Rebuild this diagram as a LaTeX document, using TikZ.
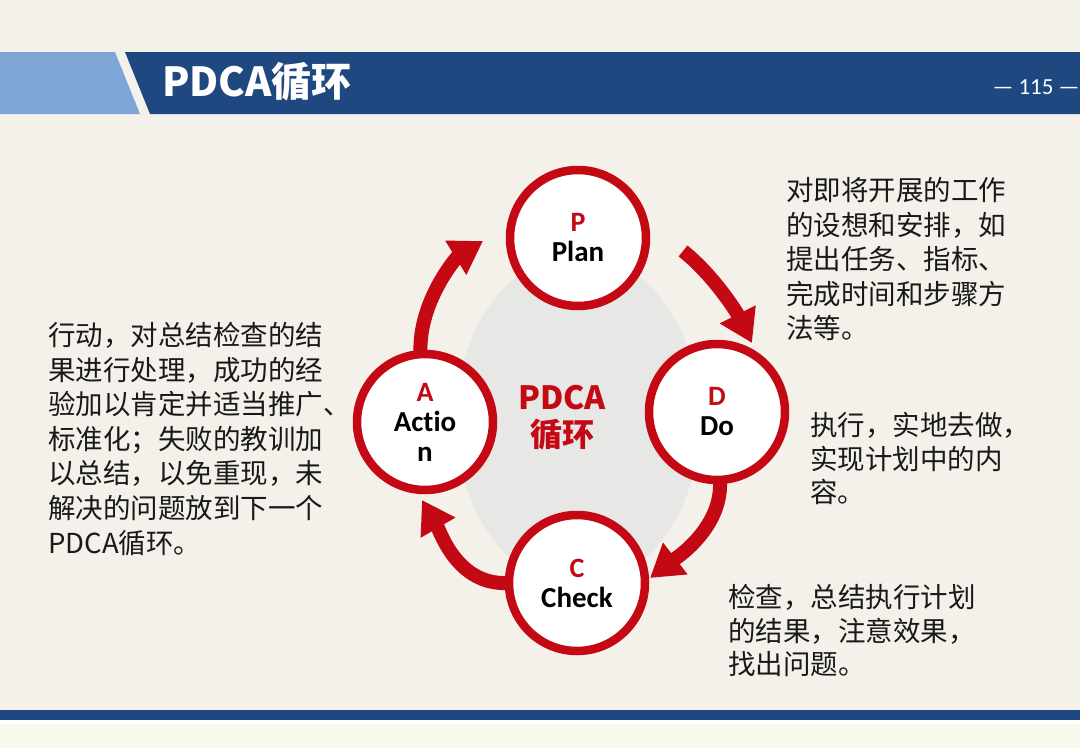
\documentclass[tikz,border=0pt]{standalone}
\usepackage{fontspec}
\newfontfamily\cjk{Noto Sans CJK SC}
\newfontfamily\lat[Ligatures=NoCommon]{Carlito}
\usetikzlibrary{arrows.meta,calc}
\definecolor{bg}{RGB}{243,241,234}
\definecolor{bgfoot}{RGB}{250,249,239}
\definecolor{lblue}{RGB}{125,166,214}
\definecolor{dblue}{RGB}{31,71,128}
\definecolor{pdred}{RGB}{196,8,20}
\definecolor{shadegray}{RGB}{231,231,229}
\definecolor{txt}{RGB}{25,25,25}
\begin{document}
\begin{tikzpicture}[x=1pt,y=-1pt,
  cir/.style={circle, draw=pdred, line width=8.5pt, fill=white, minimum size=136pt, inner sep=0pt, align=center, font=\lat\bfseries\fontsize{29}{30}\selectfont, text=black},
  arr/.style={draw=pdred, line width=14pt, -{Triangle[width=38pt,length=32pt]}},
  body/.style={anchor=north west, align=left, inner sep=0pt, font=\cjk\fontsize{27.5}{34.6}\selectfont, text=txt},
  ]
\useasboundingbox (0,0) rectangle (1080,748);
\fill[bg] (0,0) rectangle (1080,748);
\fill[bgfoot] (0,720) rectangle (1080,748);
\fill[lblue] (0,52) -- (115,52) -- (140,114) -- (0,114) -- cycle;
\fill[dblue] (125,52) -- (1080,52) -- (1080,114) -- (150,114) -- cycle;
\fill[dblue] (0,710) rectangle (1080,720);
\fill[white] (0,720) rectangle (1080,723.5);
\node[anchor=west, text=white, font=\cjk\bfseries\fontsize{40}{42}\selectfont, inner sep=0pt] (title) at (162,82) {PDCA循环};
\node[text=white, font=\lat\fontsize{23}{26}\selectfont, inner sep=0pt] (pg) at (1036,87) {— 115 —};

\fill[shadegray] (578,420) ellipse [x radius=122, y radius=166];

\coordinate (P) at (578,238);
\coordinate (D) at (717,412);
\coordinate (C) at (577,583);
\coordinate (A) at (425,422);

\draw[arr] ($(A)+(-4,-62)$) .. controls ($(A)+(-10,-117)$) and ($(P)+(-121,19)$) .. ($(P)+(-95,3)$);
\draw[arr] ($(P)+(105,13)$) .. controls ($(P)+(133,35)$) and ($(D)+(18,-103)$) .. ($(D)+(35,-69)$);
\draw[arr] ($(D)+(3,70)$) .. controls ($(D)+(5,118)$) and ($(C)+(95,-22)$) .. ($(C)+(73,-5)$);
\draw[arr] ($(C)+(-70,0)$) .. controls ($(C)+(-120,2)$) and ($(A)+(15,109)$) .. ($(A)+(-3,78)$);

\node[cir] (nP) at (P) {\textcolor{pdred}{\fontsize{28}{30}\selectfont P}\\Plan};
\node[cir] (nD) at (D) {\textcolor{pdred}{\fontsize{28}{30}\selectfont D}\\Do};
\node[cir] (nC) at (C) {\textcolor{pdred}{\fontsize{28}{30}\selectfont C}\\Check};
\node[cir] (nA) at (A) {\textcolor{pdred}{\fontsize{28}{30}\selectfont A}\\Actio\\n};

\node[text=pdred, font=\cjk\bfseries\fontsize{32}{37}\selectfont, align=center, inner sep=0pt] (ctr) at (562,418) {PDCA\\循环};

\node[body] (tL) at (48,322) {行动，对总结检查的结\\果进行处理，成功的经\\验加以肯定并适当推广、\\标准化；失败的教训加\\以总结，以免重现，未\\解决的问题放到下一个\\PDCA循环。};
\node[body] (tP) at (786,177) {对即将开展的工作\\的设想和安排，如\\提出任务、指标、\\完成时间和步骤方\\法等。};
\node[body, font=\cjk\fontsize{27.5}{33.5}\selectfont] (tD) at (810,412) {执行，实地去做，\\实现计划中的内\\容。};
\node[body, font=\cjk\fontsize{27.5}{33.5}\selectfont] (tC) at (728,584) {检查，总结执行计划\\的结果，注意效果，\\找出问题。};
\end{tikzpicture}
\end{document}
